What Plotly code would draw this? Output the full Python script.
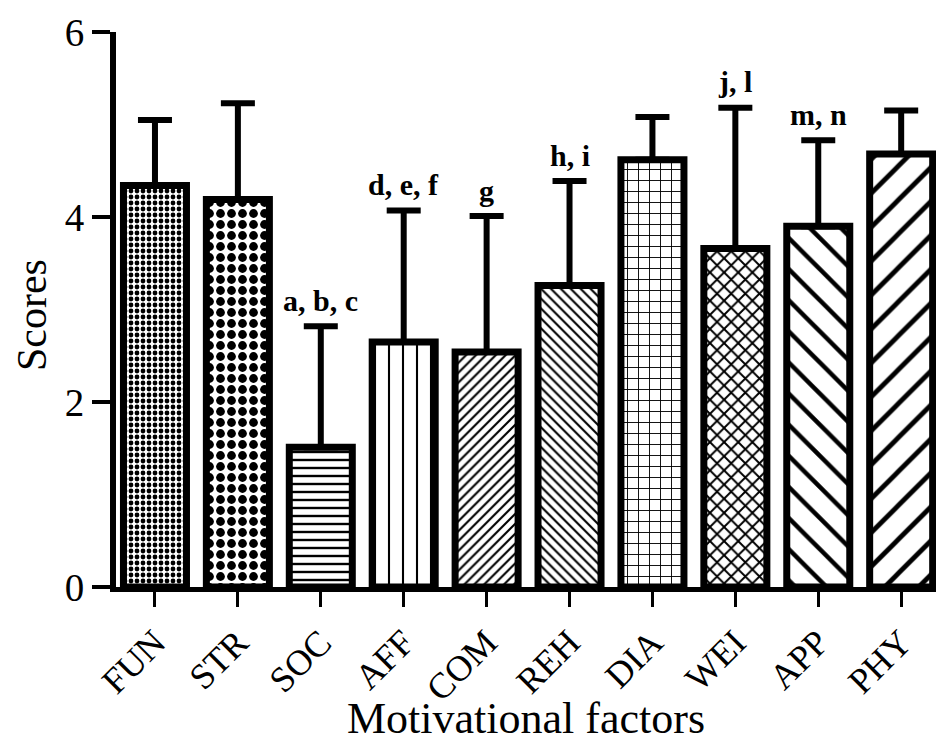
import plotly.graph_objects as go

categories = ["FUN", "STR", "SOC", "AFF", "COM", "REH", "DIA", "WEI", "APP", "PHY"]
means = [4.34, 4.19, 1.51, 2.65, 2.54, 3.26, 4.62, 3.66, 3.90, 4.68]
upper = [5.05, 5.23, 2.82, 4.07, 4.01, 4.39, 5.08, 5.18, 4.83, 5.15]
letters = ["", "", "a, b, c", "d, e, f", "g", "h, i", "", "j, l", "m, n", ""]
y_ticks = [0, 2, 4, 6]

shapes = [".", ".", "-", "|", "/", "\\", "+", "x", "\\", "/"]
sizes = [6, 11, 8, 14, 7, 7, 11, 10, 22, 24]
solid = [0.5, 0.5, 0.3, 0.15, 0.3, 0.3, 0.16, 0.35, 0.2, 0.2]

fig = go.Figure()
fig.add_trace(go.Bar(
    x=list(range(len(categories))),
    y=means,
    width=0.76,
    marker=dict(
        color="white",
        line=dict(color="black", width=7),
        pattern=dict(shape=shapes, size=sizes, solidity=solid,
                     fgcolor="black", bgcolor="white", fgopacity=1,
                     fillmode="replace"),
    ),
    error_y=dict(type="data", symmetric=False,
                 array=[u - m for u, m in zip(upper, means)],
                 arrayminus=[0] * len(means),
                 color="black", thickness=6, width=17),
    showlegend=False,
))

for i, (t, u) in enumerate(zip(letters, upper)):
    if t:
        fig.add_annotation(x=i, y=u + 0.08, text="<b>%s</b>" % t, showarrow=False,
                           xref="x", yref="y", yanchor="bottom",
                           font=dict(family="Liberation Serif", size=30, color="black"))

fig.add_annotation(x=0.5, y=0, xref="paper", yref="paper", yshift=-131,
                   xanchor="center", yanchor="middle", showarrow=False,
                   text="Motivational factors",
                   font=dict(family="Liberation Serif", size=44, color="black"))

fig.add_annotation(x=0, y=0.49, xref="paper", yref="paper", xshift=-84,
                   xanchor="center", yanchor="middle", showarrow=False,
                   text="Scores", textangle=-90,
                   font=dict(family="Liberation Serif", size=42, color="black"))

fig.update_layout(
    width=936, height=735,
    margin=dict(l=108, r=8, t=24, b=156, autoexpand=False),
    plot_bgcolor="white", paper_bgcolor="white",
    font=dict(family="Liberation Serif", color="black"),
)
fig.update_xaxes(
    range=[-0.47, 9.42], automargin=False,
    tickmode="array", tickvals=list(range(len(categories))), ticktext=categories,
    tickangle=-45, tickfont=dict(size=36, family="Liberation Serif"),
    ticks="outside", ticklen=15, tickwidth=3, tickcolor="black",
    showline=True, linecolor="black", linewidth=5,
    showgrid=False, zeroline=False,
)
fig.update_yaxes(
    range=[0, 6], automargin=False,
    tickmode="array", tickvals=y_ticks, ticktext=[str(v) for v in y_ticks],
    tickfont=dict(size=39, family="Liberation Serif"),
    ticks="outside", ticklen=18, tickwidth=4, tickcolor="black",
    showline=True, linecolor="black", linewidth=6,
    showgrid=False, zeroline=False,
)

fig.write_html("out.html")
